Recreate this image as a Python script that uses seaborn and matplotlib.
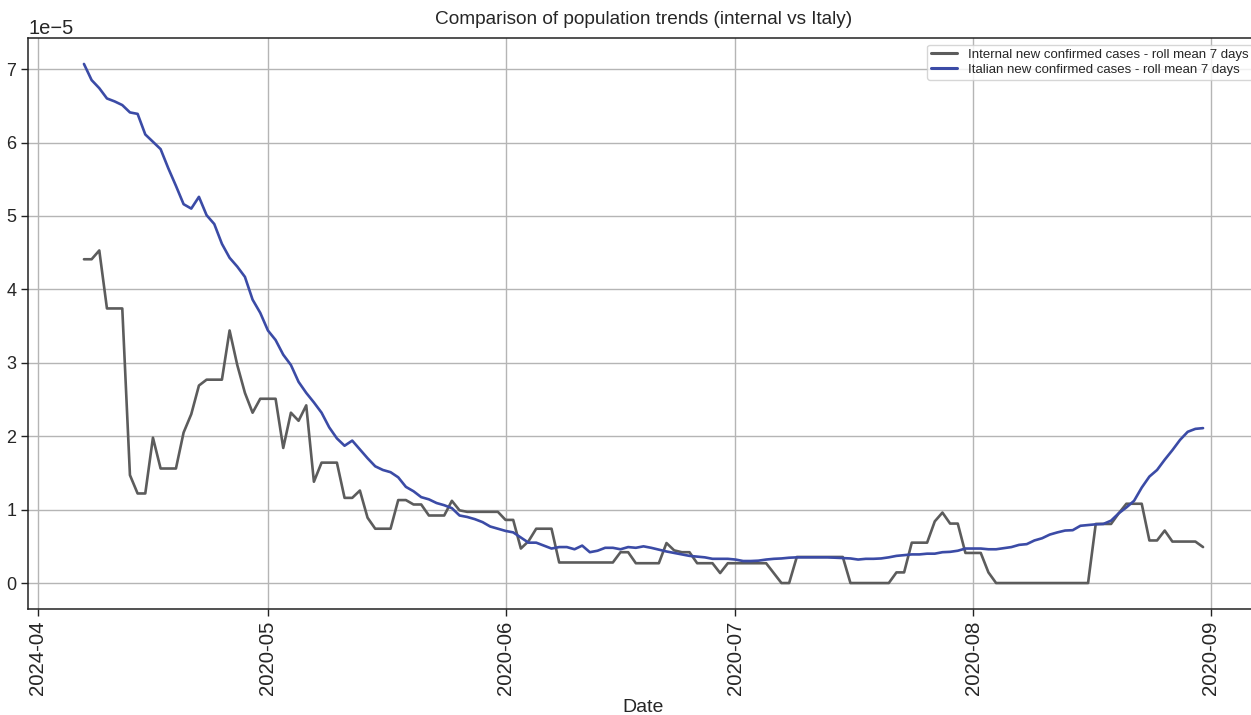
import numpy as np
import pandas as pd
import matplotlib
matplotlib.use("Agg")
import matplotlib.pyplot as plt
import seaborn as sns

# ---------------- data (values in units of 1e-5) ----------------
start_date = "2020-04-07"

internal = [
    4.41, 4.41, 4.53, 3.74, 3.74, 3.74, 1.47, 1.22, 1.22, 1.98,
    1.56, 1.56, 1.56, 2.05, 2.30, 2.69, 2.77, 2.77, 2.77, 3.44,
    2.97, 2.59, 2.32, 2.51, 2.51, 2.51, 1.84, 2.32, 2.21, 2.42,
    1.38, 1.64, 1.64, 1.64, 1.16, 1.16, 1.26, 0.89, 0.74, 0.74,
    0.74, 1.13, 1.13, 1.07, 1.07, 0.92, 0.92, 0.92, 1.12, 0.99,
    0.97, 0.97, 0.97, 0.97, 0.97, 0.86, 0.86, 0.47, 0.57, 0.74,
    0.74, 0.74, 0.28, 0.28, 0.28, 0.28, 0.28, 0.28, 0.28, 0.28,
    0.42, 0.42, 0.27, 0.27, 0.27, 0.27, 0.545, 0.445, 0.42, 0.42,
    0.27, 0.27, 0.27, 0.136, 0.27, 0.27, 0.27, 0.27, 0.27, 0.27,
    0.135, 0.0, 0.0, 0.355, 0.355, 0.355, 0.355, 0.355, 0.355, 0.355,
    0.0, 0.0, 0.0, 0.0, 0.0, 0.0, 0.145, 0.145, 0.55, 0.55,
    0.55, 0.84, 0.96, 0.81, 0.81, 0.41, 0.41, 0.41, 0.145, 0.0,
    0.0, 0.0, 0.0, 0.0, 0.0, 0.0, 0.0, 0.0, 0.0, 0.0,
    0.0, 0.0, 0.805, 0.805, 0.805, 0.95, 1.08, 1.08, 1.08, 0.58,
    0.58, 0.715, 0.565, 0.565, 0.565, 0.565, 0.49,
]

italy = [
    7.07, 6.85, 6.74, 6.60, 6.56, 6.51, 6.41, 6.39, 6.11, 6.01,
    5.91, 5.65, 5.41, 5.16, 5.10, 5.26, 5.01, 4.89, 4.62, 4.43,
    4.31, 4.17, 3.86, 3.68, 3.44, 3.31, 3.11, 2.97, 2.74, 2.59,
    2.46, 2.32, 2.12, 1.97, 1.87, 1.94, 1.82, 1.70, 1.59, 1.54,
    1.51, 1.44, 1.31, 1.25, 1.17, 1.14, 1.09, 1.06, 1.02, 0.92,
    0.90, 0.87, 0.83, 0.77, 0.74, 0.71, 0.69, 0.62, 0.55, 0.55,
    0.51, 0.47, 0.49, 0.49, 0.46, 0.51, 0.42, 0.44, 0.48, 0.48,
    0.46, 0.49, 0.48, 0.50, 0.48, 0.455, 0.43, 0.41, 0.39, 0.37,
    0.36, 0.35, 0.33, 0.33, 0.33, 0.32, 0.30, 0.30, 0.305, 0.32,
    0.33, 0.335, 0.345, 0.35, 0.35, 0.35, 0.35, 0.35, 0.345, 0.34,
    0.335, 0.32, 0.33, 0.33, 0.335, 0.35, 0.37, 0.38, 0.39, 0.39,
    0.40, 0.40, 0.42, 0.425, 0.44, 0.47, 0.47, 0.47, 0.46, 0.46,
    0.475, 0.49, 0.52, 0.53, 0.58, 0.61, 0.66, 0.69, 0.715, 0.72,
    0.78, 0.79, 0.80, 0.805, 0.85, 0.95, 1.03, 1.12, 1.30, 1.45,
    1.54, 1.68, 1.81, 1.95, 2.06, 2.10, 2.11,
]

series_names = [
    "Internal new confirmed cases - roll mean 7 days",
    "Italian new confirmed cases - roll mean 7 days",
]
series_colors = ["#5c5c5c", "#3b4ba6"]

tick_dates = ["2020-04-01", "2020-05-01", "2020-06-01",
              "2020-07-01", "2020-08-01", "2020-09-01"]
tick_labels = ["2024-04", "2020-05", "2020-06", "2020-07", "2020-08", "2020-09"]

title = "Comparison of population trends (internal vs Italy)"
xlabel = "Date"

# ---------------- build long table ----------------
dates = pd.date_range(start_date, periods=len(internal), freq="D")
df = pd.DataFrame({
    "Date": list(dates) + list(dates),
    "value": list(np.array(internal) * 1e-5) + list(np.array(italy) * 1e-5),
    "series": [series_names[0]] * len(internal) + [series_names[1]] * len(italy),
})

# ---------------- style ----------------
sns.set_style("ticks", {"axes.grid": True, "grid.color": "#b5b5b5",
                        "axes.edgecolor": "#222222"})
plt.rcParams["font.family"] = ["Liberation Sans", "DejaVu Sans"]

fig = plt.figure(figsize=(12.51, 7.15), dpi=100)
# the reference is cropped: the axes extend slightly past the right edge
ax = fig.add_axes([28 / 1251, 1 - 609 / 715, (1259 - 28) / 1251, (609 - 38) / 715])

sns.lineplot(data=df, x="Date", y="value", hue="series",
             palette=dict(zip(series_names, series_colors)),
             linewidth=1.9, ax=ax)

ax.set_xticks(pd.to_datetime(tick_dates))
ax.set_xticklabels(tick_labels, rotation=90, fontsize=14.7)
ax.tick_params(axis="y", labelsize=13)
ax.tick_params(axis="both", length=5, width=1, color="#222222")
ax.yaxis.get_offset_text().set_fontsize(14.5)
ax.grid(True, color="#b5b5b5", linewidth=1)
ax.set_title(title, fontsize=13.7, pad=10)
ax.set_xlabel(xlabel, fontsize=14, labelpad=3)
ax.set_ylabel("")

for s in ax.spines.values():
    s.set_linewidth(1.1)

leg = ax.legend(loc="upper right", fontsize=9.5, frameon=True,
                handlelength=2, borderpad=0.3, labelspacing=0.2,
                bbox_to_anchor=(1.0, 1.0))
leg.get_frame().set_edgecolor("#cccccc")
for line in leg.get_lines():
    line.set_linewidth(2.2)

fig.savefig("out.png", dpi=100)
